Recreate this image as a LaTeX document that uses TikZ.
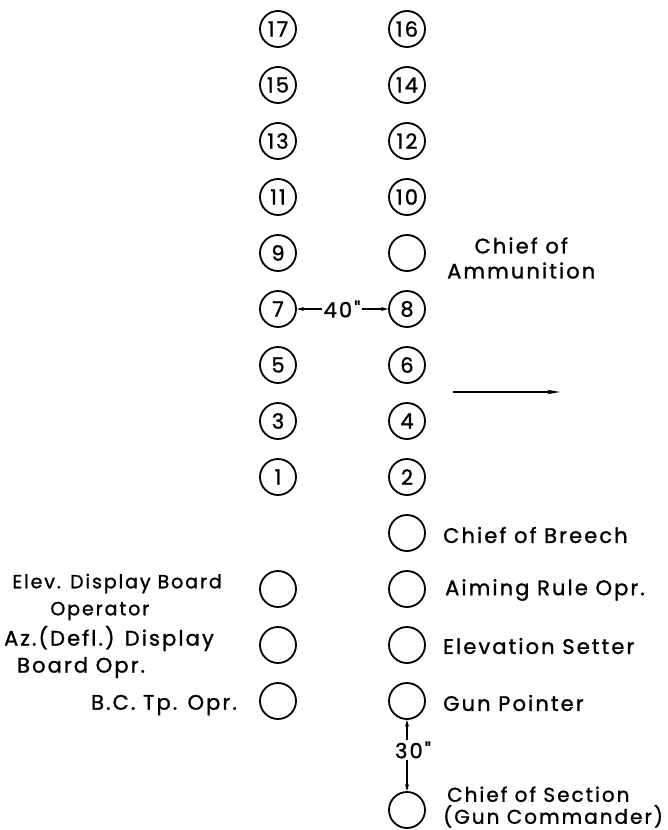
\documentclass[tikz,border=0pt]{standalone}
\usepackage{fontspec}
\newfontfamily\lettering[LetterSpace=10,FakeBold=1.2]{Poppins}
\usepackage{tikz}
\usetikzlibrary{arrows.meta,positioning}

\begin{document}
\begin{tikzpicture}[
    x=1pt, y=-1pt,
    >={Stealth[length=7pt,width=4pt]},
    font=\lettering\fontsize{21}{25}\selectfont,
    seat/.style={
        circle,
        draw=black,
        line width=1.8pt,
        minimum size=36pt,
        inner sep=0pt
    },
    lbl/.style={
        inner sep=0pt,
        align=left
    },
    dim/.style={
        inner sep=1pt
    },
    arr/.style={->, line width=1.1pt},
    dirarr/.style={-{Stealth[length=13pt,width=4.5pt]}, line width=1.1pt}
]
\useasboundingbox (0,0) rectangle (667,830);

% left column
\node[seat] (n17) at (278,29) {17};
\node[seat] (n15) at (278,85) {15};
\node[seat] (n13) at (278,141) {13};
\node[seat] (n11) at (278,197) {11};
\node[seat] (n9) at (278,253) {9};
\node[seat] (n7) at (278,309) {7};
\node[seat] (n5) at (278,365) {5};
\node[seat] (n3) at (278,421) {3};
\node[seat] (n1) at (278,477) {1};
\node[seat] (elevboard) at (278,589) {};
\node[seat] (azboard) at (278,645) {};
\node[seat] (bctp) at (278,701) {};

% right column
\node[seat] (n16) at (407,29) {16};
\node[seat] (n14) at (407,85) {14};
\node[seat] (n12) at (407,141) {12};
\node[seat] (n10) at (407,197) {10};
\node[seat] (ammo) at (407,253) {};
\node[seat] (n8) at (407,309) {8};
\node[seat] (n6) at (407,365) {6};
\node[seat] (n4) at (407,421) {4};
\node[seat] (n2) at (407,477) {2};
\node[seat] (breech) at (407,533) {};
\node[seat] (aiming) at (407,589) {};
\node[seat] (elevset) at (407,645) {};
\node[seat] (pointer) at (407,701) {};
\node[seat] (section) at (407,810) {};

% crew labels, right
\node[lbl, align=center, anchor=west] (ammotxt) at (447,258) {Chief of\\Ammunition};
\node[lbl, anchor=west] (breechtxt) at (443,535) {Chief of Breech};
\node[lbl, anchor=west] (aimingtxt) at (445,590) {Aiming Rule Opr.};
\node[lbl, anchor=west] (elevsettxt) at (443,646) {Elevation Setter};
\node[lbl, anchor=west] (pointertxt) at (443,703) {Gun Pointer};
\node[lbl, anchor=west, font=\lettering\fontsize{20}{24}\selectfont] (sectiontxt) at (443,807) {\hspace*{4pt}Chief of Section\\[-2pt](Gun Commander)};

% crew labels, left
\node[lbl, anchor=east, font=\lettering\fontsize{19}{25}\selectfont] (elevboardtxt) at (222,597) {Elev. Display Board\\[2pt]\hspace*{38pt}Operator};
\node[lbl, anchor=east] (azboardtxt) at (214,652) {Az.(Defl.) Display\\[2pt]\hspace*{13pt}Board Opr.};
\node[lbl, anchor=east] (bctptxt) at (237,705) {B.C. Tp. Opr.};

% spacing
\node[dim] (dim40) at (342,309) {40"};
\draw[arr] (dim40.west) -- (n7.east);
\draw[arr] (dim40.east) -- (n8.west);

\node[dim] (dim30) at (413,750) {30"};
\draw[arr] (dim30.north -| pointer.south) -- (pointer.south);
\draw[arr] (dim30.south -| section.north) -- (section.north);

% direction of fire
\coordinate (dirA) at (453,392);
\coordinate (dirB) at (560,392);
\draw[dirarr] (dirA) -- (dirB);

\end{tikzpicture}
\end{document}
